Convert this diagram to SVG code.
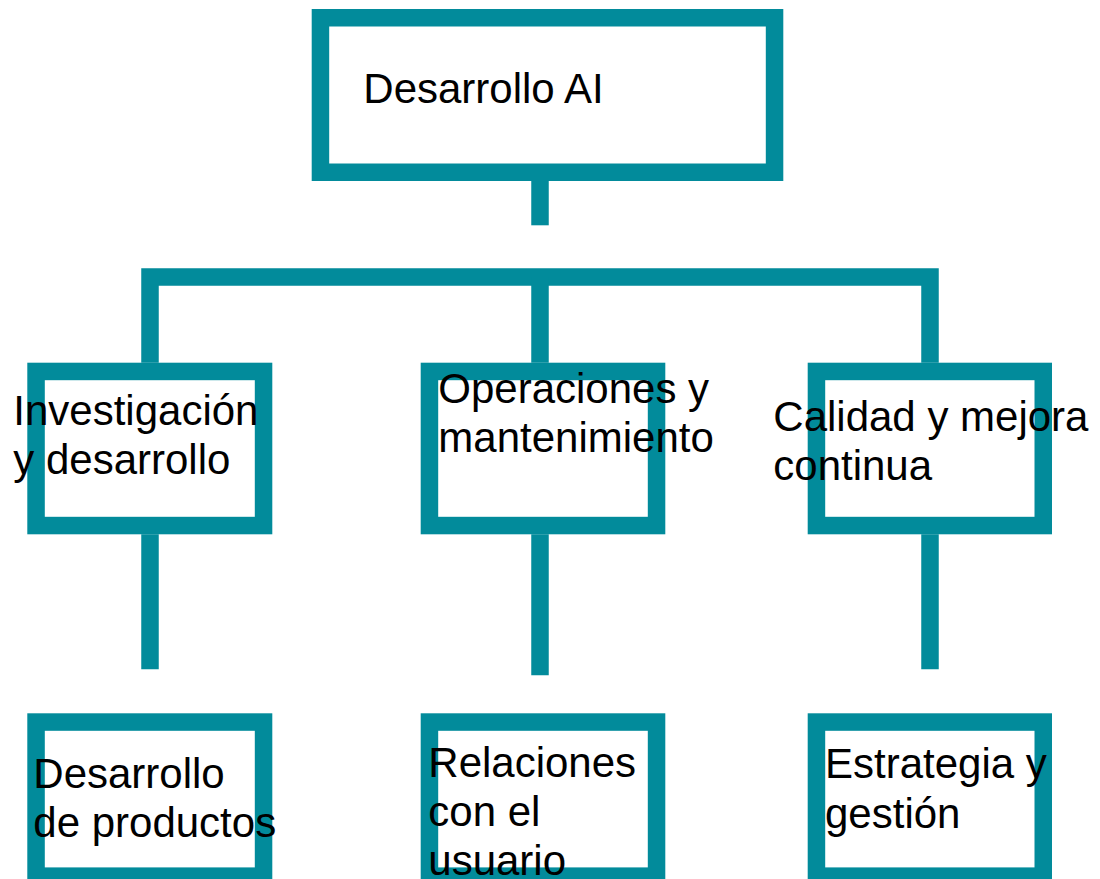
<svg xmlns="http://www.w3.org/2000/svg" width="1100" height="879" viewBox="0 0 1100 879">
<style>
.box{fill:#ffffff;stroke:#028b9b;stroke-width:17.5}
.conn{fill:none;stroke:#028b9b;stroke-width:17.5;stroke-linejoin:miter;stroke-linecap:butt}
.lbl{font-family:"Liberation Sans",Arial,sans-serif;font-size:42px;fill:#000000}
</style>
<rect x="0" y="0" width="1100" height="879" fill="#ffffff"/>
<g id="connectors">
<path class="conn" d="M540,181 V225.3"/>
<path class="conn" d="M150,362.7 V277 H930 V362.7"/>
<path class="conn" d="M540,277 V362.7"/>
<path class="conn" d="M150,534.3 V669.3"/>
<path class="conn" d="M540,534.3 V675.3"/>
<path class="conn" d="M930,534.3 V669.3"/>
</g>
<g id="node-root">
<rect class="box" x="320.45" y="17.75" width="454.1" height="154.5"/>
<text class="lbl" x="363.3" y="102.7">Desarrollo AI</text>
</g>
<g id="node-investigacion">
<rect class="box" x="36.05" y="371.45" width="227.5" height="154.1"/>
<text class="lbl" x="13.3" y="425">Investigación</text>
<text class="lbl" x="13.3" y="474">y desarrollo</text>
</g>
<g id="node-operaciones">
<rect class="box" x="429.45" y="371.45" width="227.1" height="154.1"/>
<text class="lbl" x="438.3" y="403.3">Operaciones y</text>
<text class="lbl" x="438.3" y="452.3">mantenimiento</text>
</g>
<g id="node-calidad">
<rect class="box" x="816.45" y="371.45" width="226.8" height="154.1"/>
<text class="lbl" x="773.3" y="431">Calidad y mejora</text>
<text class="lbl" x="773.3" y="480">continua</text>
</g>
<g id="node-productos">
<rect class="box" x="36.05" y="722.05" width="227.5" height="154.1"/>
<text class="lbl" x="33.3" y="787.7">Desarrollo</text>
<text class="lbl" x="33.3" y="836.7">de productos</text>
</g>
<g id="node-relaciones">
<rect class="box" x="429.45" y="722.05" width="227.1" height="154.1"/>
<text class="lbl" x="428.3" y="776.7">Relaciones</text>
<text class="lbl" x="428.3" y="825.7">con el</text>
<text class="lbl" x="428.3" y="874.7">usuario</text>
</g>
<g id="node-estrategia">
<rect class="box" x="816.45" y="722.05" width="226.8" height="154.1"/>
<text class="lbl" x="825" y="778.3">Estrategia y</text>
<text class="lbl" x="825" y="828.3">gestión</text>
</g>
</svg>
